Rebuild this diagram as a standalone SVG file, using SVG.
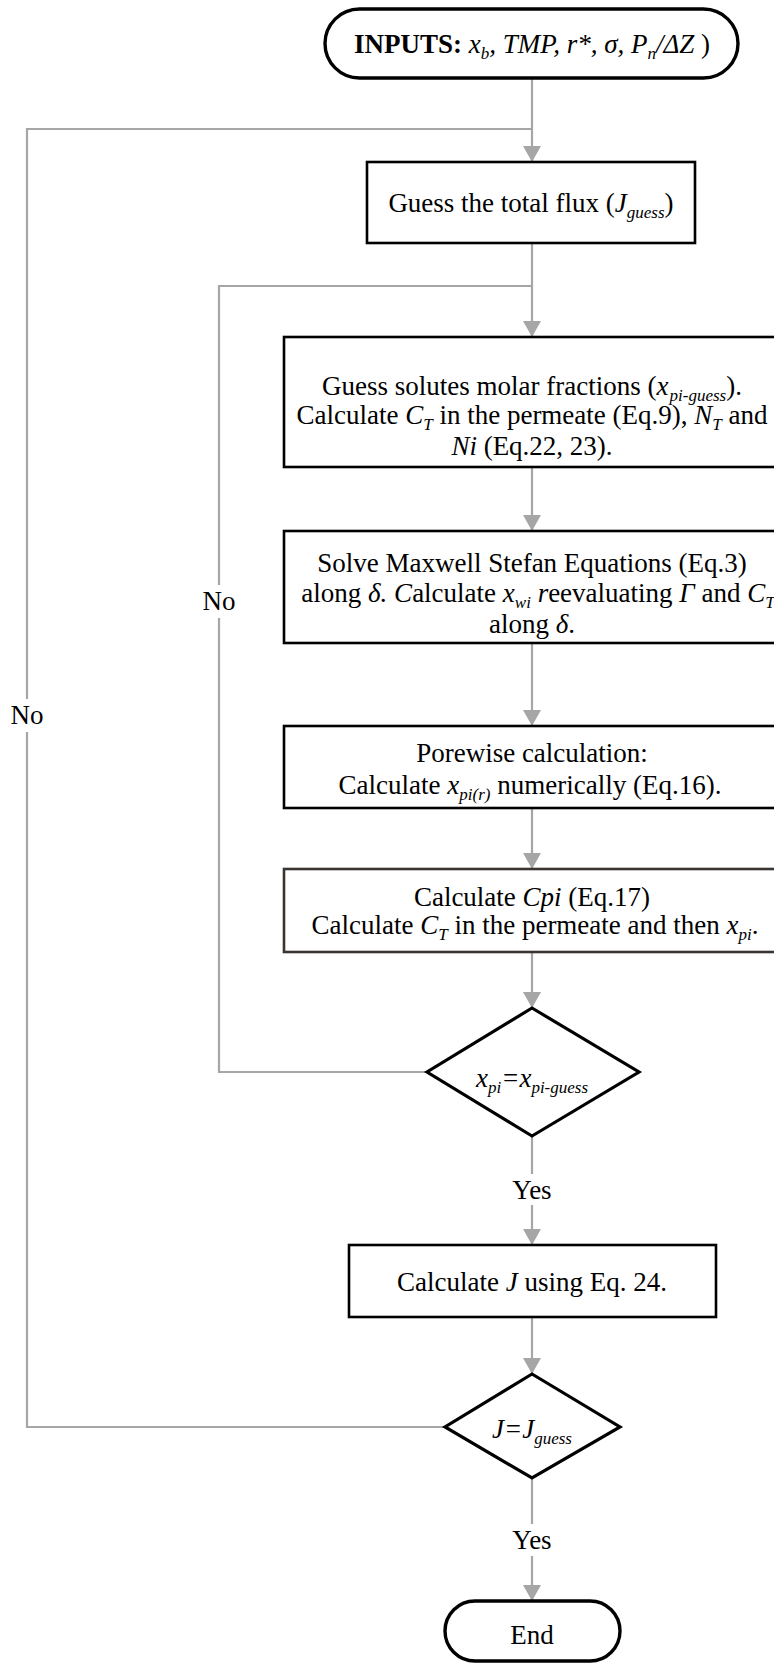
<svg xmlns="http://www.w3.org/2000/svg" width="774" height="1668" viewBox="0 0 774 1668">
<style>
.conn{stroke:#a6a6a6;stroke-width:2.2;fill:none}
.box{fill:#fff;stroke:#000;stroke-width:2.6}
.term{fill:#fff;stroke:#000;stroke-width:3.4}
.dia{fill:#fff;stroke:#000;stroke-width:3.2}
.lblbg{fill:#fff;stroke:none}
text{font-family:"Liberation Serif","Times New Roman",serif;font-size:27px;fill:#000}
.c{text-anchor:middle}
.i{font-style:italic}
.s{font-size:17px}
.b{font-weight:bold}
</style>
<defs>
<marker id="arr" viewBox="0 0 16 18" markerWidth="16" markerHeight="18" refX="16" refY="9" orient="auto" markerUnits="userSpaceOnUse">
<path d="M0,0 L16,9 L0,18 z" fill="#a6a6a6"/>
</marker>
</defs>
<rect width="774" height="1668" fill="#fff"/>
<g id="connectors">
<path class="conn" d="M532,78 V162" marker-end="url(#arr)"/>
<path class="conn" d="M532,243 V337" marker-end="url(#arr)"/>
<path class="conn" d="M532,467 V531" marker-end="url(#arr)"/>
<path class="conn" d="M532,643 V726" marker-end="url(#arr)"/>
<path class="conn" d="M532,808 V869" marker-end="url(#arr)"/>
<path class="conn" d="M532,952 V1008" marker-end="url(#arr)"/>
<path class="conn" d="M532,1136 V1245" marker-end="url(#arr)"/>
<path class="conn" d="M532,1317 V1374" marker-end="url(#arr)"/>
<path class="conn" d="M532,1478 V1601" marker-end="url(#arr)"/>
<path class="conn" d="M427,1072 H219 V286 H532"/>
<path class="conn" d="M445,1427 H27 V129 H532"/>
</g>
<g id="labels">
<rect class="lblbg" x="200" y="585" width="38" height="33"/>
<text class="c" x="219" y="610">No</text>
<rect class="lblbg" x="8" y="699" width="38" height="33"/>
<text class="c" x="27" y="724">No</text>
<rect class="lblbg" x="505" y="1174" width="54" height="31"/>
<text class="c" x="532" y="1199">Yes</text>
<rect class="lblbg" x="505" y="1524" width="54" height="32"/>
<text class="c" x="532" y="1549">Yes</text>
</g>
<g id="inputs">
<rect class="term" x="325" y="9" width="413" height="69" rx="34.5" ry="34.5"/>
<text class="c" x="532" y="53"><tspan class="b">INPUTS:</tspan> <tspan class="i">x</tspan><tspan class="i s" dy="6">b</tspan><tspan class="i" dy="-6">, TMP, r*, σ, P</tspan><tspan class="i s" dy="6">n</tspan><tspan class="i" dy="-6">/ΔZ</tspan> )</text>
</g>
<g id="guess-flux">
<rect class="box" x="367" y="162" width="328" height="81"/>
<text class="c" x="531" y="212">Guess the total flux (<tspan class="i">J</tspan><tspan class="i s" dy="6">guess</tspan><tspan dy="-6">)</tspan></text>
</g>
<g id="guess-solutes">
<rect class="box" x="284" y="337" width="500" height="130"/>
<text class="c" x="532" y="395">Guess solutes molar fractions (<tspan class="i">x</tspan><tspan class="i s" dy="6" dx="1">pi-guess</tspan><tspan dy="-6">).</tspan></text>
<text class="c" x="532" y="424">Calculate <tspan class="i">C</tspan><tspan class="i s" dy="6">T</tspan><tspan dy="-6"> in the permeate (Eq.9), </tspan><tspan class="i">N</tspan><tspan class="i s" dy="6">T</tspan><tspan dy="-6"> and</tspan></text>
<text class="c" x="532" y="455"><tspan class="i">Ni</tspan> (Eq.22, 23).</text>
</g>
<g id="maxwell-stefan">
<rect class="box" x="284" y="531" width="500" height="112"/>
<text class="c" x="532" y="572">Solve Maxwell Stefan Equations (Eq.3)</text>
<text class="c" x="538" y="602">along <tspan class="i">δ. C</tspan>alculate <tspan class="i">x</tspan><tspan class="i s" dy="6">wi</tspan><tspan class="i" dy="-6"> r</tspan>eevaluating <tspan class="i">Γ</tspan> and <tspan class="i">C</tspan><tspan class="i s" dy="6">T</tspan></text>
<text class="c" x="532" y="633">along <tspan class="i">δ</tspan>.</text>
</g>
<g id="porewise">
<rect class="box" x="284" y="726" width="500" height="82"/>
<text class="c" x="532" y="762">Porewise calculation:</text>
<text class="c" x="530" y="794">Calculate <tspan class="i">x</tspan><tspan class="i s" dy="6">pi(r)</tspan><tspan dy="-6"> numerically (Eq.16).</tspan></text>
</g>
<g id="calc-cpi">
<rect class="box" x="284" y="869" width="500" height="83" style="stroke:#3b3532"/>
<text class="c" x="532" y="906">Calculate <tspan class="i">Cpi</tspan> (Eq.17)</text>
<text class="c" x="535" y="934">Calculate <tspan class="i">C</tspan><tspan class="i s" dy="6">T</tspan><tspan dy="-6"> in the permeate and then </tspan><tspan class="i">x</tspan><tspan class="i s" dy="6">pi</tspan><tspan dy="-6">.</tspan></text>
</g>
<g id="check-xpi">
<polygon class="dia" points="532,1008 639,1072 532,1136 427,1072"/>
<text class="c i" x="532" y="1087">x<tspan class="s" dy="6">pi</tspan><tspan dy="-6">=x</tspan><tspan class="s" dy="6">pi-guess</tspan></text>
</g>
<g id="calc-j">
<rect class="box" x="349" y="1245" width="367" height="72"/>
<text class="c" x="532" y="1291">Calculate <tspan class="i">J</tspan> using Eq. 24.</text>
</g>
<g id="check-j">
<polygon class="dia" points="532,1374 620,1427 532,1478 445,1427"/>
<text class="c i" x="532" y="1438">J=J<tspan class="s" dy="6">guess</tspan></text>
</g>
<g id="end">
<rect class="term" x="445" y="1601" width="175" height="60" rx="30" ry="30"/>
<text class="c" x="532" y="1644">End</text>
</g>
</svg>
